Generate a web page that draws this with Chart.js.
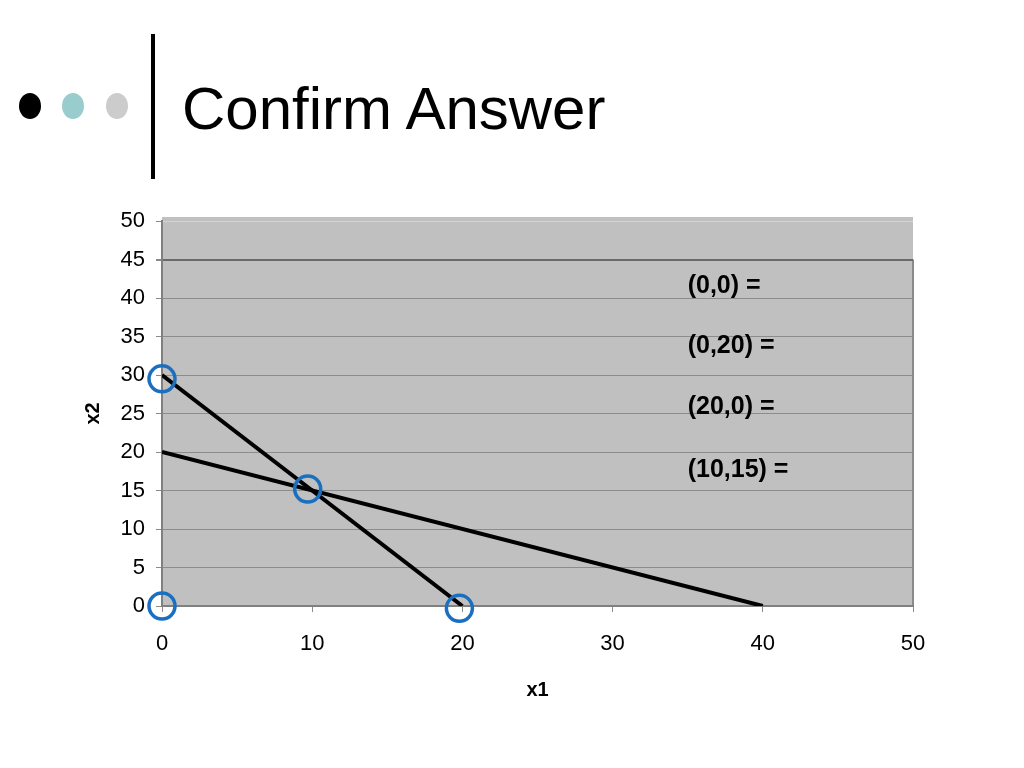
<!DOCTYPE html>
<html>
<head>
<meta charset="utf-8">
<script src="https://cdn.jsdelivr.net/npm/chart.js@4"></script>
<style>
    html, body { margin: 0; padding: 0; background: #fff; }
    #page { position: relative; width: 1024px; height: 768px; overflow: hidden; }
    #wrap { position: absolute; left: 0; top: 0; width: 1024px; height: 768px; }
    .dot { position: absolute; border-radius: 50%; width: 22px; height: 26px; top: 93px; }
    #bar { position: absolute; left: 151px; top: 34px; width: 4px; height: 145px; background: #000; }
    #title {
        position: absolute; left: 182px; top: 79px; margin: 0; font-weight: normal;
        font: 60px/60px "Liberation Sans", Arial, sans-serif; color: #000; white-space: nowrap;
    }
</style>
</head>
<body>
<div id="page">
    <div class="dot" style="left:19px;background:#000"></div>
    <div class="dot" style="left:62px;background:#99cccc"></div>
    <div class="dot" style="left:106px;background:#cccccc"></div>
    <div id="bar"></div>
    <h1 id="title">Confirm Answer</h1>
    <div id="wrap"><canvas id="chart"></canvas></div>
</div>
<script>
// constraint lines
const line1X = [0, 20];
const line1Y = [30, 0];
const line2X = [0, 40];
const line2Y = [20, 0];

// circled corner points (as placed on the slide)
const circleX = [0, 9.7, 0, 19.8];
const circleY = [29.5, 15.2, 0, -0.3];

// answer labels, anchored in data units
const answerLabels = ['(0,0) =', '(0,20) =', '(20,0) =', '(10,15) ='];
const answerX = 35;
const answerY = [41.6, 33.7, 25.8, 17.7];

const toPoints = (xs, ys) => xs.map((x, i) => ({ x: x, y: ys[i] }));

// gray plot background + right border
const plotBg = {
    id: 'plotBg',
    beforeDraw(chart) {
        const { ctx, chartArea: a, scales } = chart;
        ctx.save();
        ctx.fillStyle = '#c0c0c0';
        ctx.fillRect(a.left, a.top - 4, a.right - a.left, a.bottom - a.top + 4);
        ctx.strokeStyle = '#8a8a8a';
        ctx.lineWidth = 2;
        ctx.beginPath();
        ctx.moveTo(a.right, scales.y.getPixelForValue(45));
        ctx.lineTo(a.right, a.bottom);
        ctx.stroke();
        ctx.restore();
    }
};

// "(x,y) =" labels
const answerText = {
    id: 'answerText',
    afterDatasetsDraw(chart) {
        const { ctx, scales } = chart;
        ctx.save();
        ctx.font = 'bold 25px "Liberation Sans", Arial, sans-serif';
        ctx.fillStyle = '#000';
        ctx.textAlign = 'left';
        ctx.textBaseline = 'middle';
        answerLabels.forEach((t, i) => {
            ctx.fillText(t, scales.x.getPixelForValue(answerX), scales.y.getPixelForValue(answerY[i]));
        });
        ctx.restore();
    }
};

const tickFont = { family: '"Liberation Sans", Arial, sans-serif', size: 22 };
const titleFont = { family: '"Liberation Sans", Arial, sans-serif', size: 20, weight: 'bold' };

new Chart(document.getElementById('chart'), {
    type: 'scatter',
    data: {
        datasets: [
            {
                data: toPoints(circleX, circleY),
                pointStyle: 'circle',
                pointRadius: 13,
                pointHoverRadius: 13,
                borderWidth: 3.5,
                borderColor: '#1a6fc0',
                backgroundColor: 'rgba(0,0,0,0)',
                clip: false,
                order: 0
            },
            {
                data: toPoints(line1X, line1Y),
                showLine: true,
                borderColor: '#000',
                borderWidth: 4,
                pointRadius: 0,
                order: 1
            },
            {
                data: toPoints(line2X, line2Y),
                showLine: true,
                borderColor: '#000',
                borderWidth: 4,
                pointRadius: 0,
                order: 1
            }
        ]
    },
    options: {
        responsive: true,
        maintainAspectRatio: false,
        animation: false,
        layout: { padding: { left: 80, right: 111, top: 221, bottom: 50 } },
        plugins: { legend: { display: false }, tooltip: { enabled: false } },
        scales: {
            x: {
                type: 'linear',
                min: 0, max: 50,
                ticks: { stepSize: 10, color: '#000', font: tickFont, padding: 19, maxRotation: 0 },
                grid: { drawOnChartArea: false, tickLength: 6, tickColor: '#8a8a8a' },
                border: { color: '#808080', width: 2 },
                title: { display: true, text: 'x1', color: '#000', font: titleFont, padding: { top: 0, bottom: 16 } },
                afterFit(scale) { scale.height = 112; }
            },
            y: {
                type: 'linear',
                min: 0, max: 50,
                ticks: { stepSize: 5, color: '#000', font: tickFont, padding: 11 },
                grid: {
                    tickLength: 6,
                    tickColor: '#8a8a8a',
                    color: (c) => c.tick.value === 45 ? '#6a6a6a' : (c.tick.value === 50 ? '#d4d4d4' : '#8c8c8c'),
                    lineWidth: (c) => c.tick.value === 45 ? 2 : 1
                },
                border: { color: '#808080', width: 2 },
                title: { display: true, text: 'x2', color: '#000', font: titleFont, padding: { top: 1, bottom: 0 } },
                afterFit(scale) { scale.width = 82; }
            }
        }
    },
    plugins: [plotBg, answerText]
});
</script>
</body>
</html>
